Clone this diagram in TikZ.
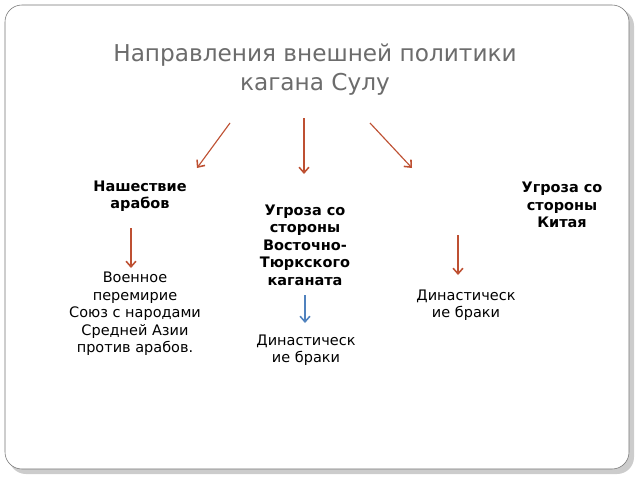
\documentclass[tikz,border=0pt]{standalone}
\usepackage{fontspec}
\setmainfont{DejaVu Sans}
\usetikzlibrary{arrows.meta}
\definecolor{rust}{RGB}{190,80,50}
\definecolor{steel}{RGB}{80,130,190}
\begin{document}
\begin{tikzpicture}
  [x=0.025cm,y=-0.025cm]
      \tikzstyle{txt_style} = [align=center, inner sep=0pt, font=\fontsize{10.3}{12.4}\selectfont]
      \tikzstyle{head_style} = [txt_style, font=\fontsize{10.3}{12.4}\selectfont\bfseries]
      \tikzstyle{arrow_style} = [draw=rust, line width=0.8pt, -{Straight Barb[length=4pt,width=7pt,line width=1.1pt]}]
  \useasboundingbox (0,0) rectangle (640,480);
  \fill[gray!40, rounded corners=12] (9,9) rectangle (634,474);
  \draw[gray!90!black, fill=white, rounded corners=12] (5,5) rectangle (629,469);
  \node[font=\fontsize{16.5}{20.5}\selectfont, text=gray!85!black, align=center] (title) at (315,70) {Направления внешней политики\\кагана Сулу};
  \node[head_style] (arabs) at (140,196) {Нашествие\\арабов};
  \node[head_style] (china) at (562,205) {Угроза со\\стороны\\Китая};
  \node[head_style] (turks) at (305,245) {Угроза со\\стороны\\Восточно-\\Тюркского\\каганата};
  \node[txt_style] (truce) at (135,314) {Военное\\перемирие\\Союз с народами\\Средней Азии\\против арабов.};
  \node[txt_style] (marriage1) at (466,305) {Династическ\\ие браки};
  \node[txt_style] (marriage2) at (306,350) {Династическ\\ие браки};
  \coordinate (a1) at (230,123); \coordinate (b1) at (197,168);
  \coordinate (a2) at (304,118); \coordinate (b2) at (304,174);
  \coordinate (a3) at (370,123); \coordinate (b3) at (412,168);
  \coordinate (a4) at (131,228); \coordinate (b4) at (131,268);
  \coordinate (a5) at (458,235); \coordinate (b5) at (458,275);
  \coordinate (a6) at (305,295); \coordinate (b6) at (305,323);
  \draw[arrow_style] (a1) -- (b1);
  \draw[arrow_style] (a2) -- (b2);
  \draw[arrow_style] (a3) -- (b3);
  \draw[arrow_style] (a4) -- (b4);
  \draw[arrow_style] (a5) -- (b5);
  \draw[arrow_style, draw=steel] (a6) -- (b6);
\end{tikzpicture}
\end{document}
